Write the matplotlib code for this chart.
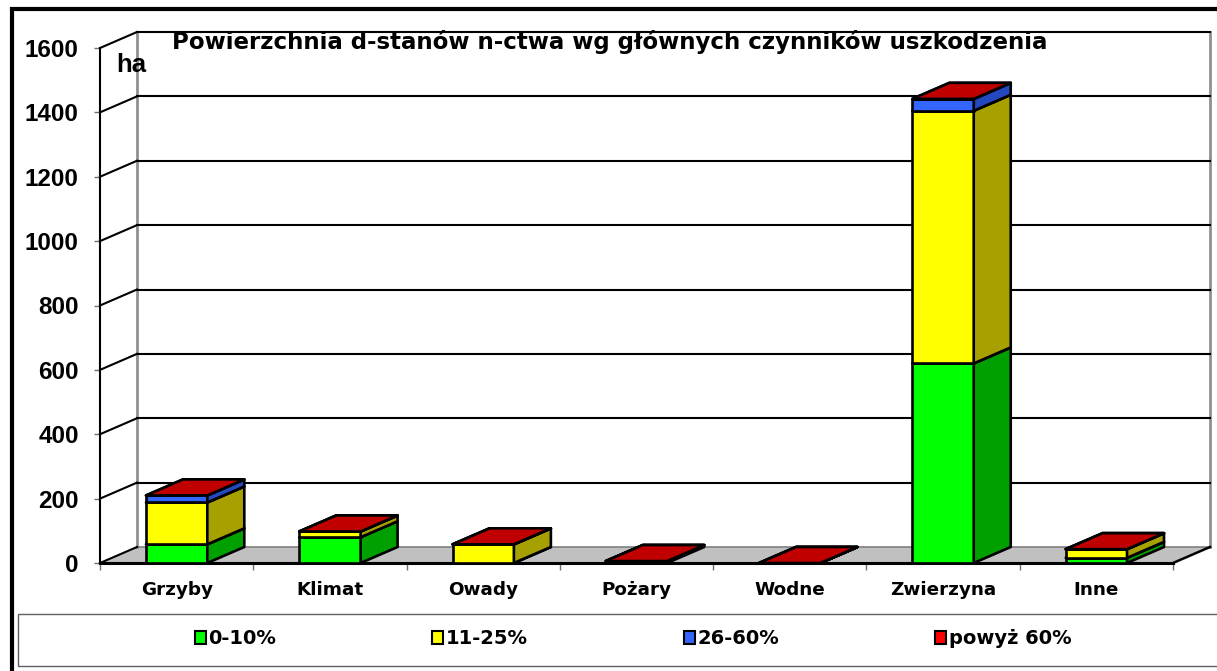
import matplotlib
matplotlib.use('Agg')
import matplotlib.pyplot as plt
from matplotlib import font_manager as fm
from matplotlib.patches import Polygon, Rectangle, Patch
import numpy as np

# ---- data ----
categories = ["Grzyby", "Klimat", "Owady", "Pożary", "Wodne", "Zwierzyna", "Inne"]
series_names = ["0-10%", "11-25%", "26-60%", "powyż 60%"]
s_0_10 = [58, 80, 0, 6, 0, 620, 16]
s_11_25 = [130, 18, 58, 0, 0, 785, 27]
s_26_60 = [22, 0, 0, 0, 0, 37, 0]
s_60 = [0, 0, 0, 0, 0, 0, 0]
y_ticks = [0, 200, 400, 600, 800, 1000, 1200, 1400, 1600]
title = "Powierzchnia d-stanów n-ctwa wg głównych czynników uszkodzenia"
unit = "ha"

# ---- styles ----
front_colors = ['#00FF00', '#FFFF00', '#3366FF', '#FF0000']
side_colors = ['#00A000', '#A6A000', '#2448C0', '#A00000']
top_colors = ['#00C000', '#C8C000', '#2A55E0', '#C00000']


def bold_font(name, size):
    for f in fm.fontManager.ttflist:
        if f.name == name and f.style == 'normal' and f.weight in (700, 'bold') \
                and 'Narrow' not in f.fname and 'Condensed' not in f.fname:
            return fm.FontProperties(fname=f.fname, size=size)
    return fm.FontProperties(family=name, weight='bold', size=size)


W, H = 1217, 671
fig = plt.figure(figsize=(W / 100, H / 100), dpi=100)
L, R, B, T = 100, 1173, 563, 48
ax = fig.add_axes([L / W, 1 - B / H, (R - L) / W, (B - T) / H])
ax.set_xlim(-0.5, len(categories) - 0.5)
ax.set_ylim(y_ticks[0], y_ticks[-1])
ax.patch.set_visible(False)

dx = 37 / ((R - L) / len(categories))
dy = 16 / ((B - T) / (y_ticks[-1] - y_ticks[0]))
x_lo, x_hi = -0.5, len(categories) - 0.5

# floor
ax.add_patch(Polygon([(x_lo, 0), (x_hi, 0), (x_hi + dx, dy), (x_lo + dx, dy)],
                     closed=True, fc='#C0C0C0', ec='none', zorder=1, clip_on=False))
ax.plot([x_lo + dx, x_hi + dx], [dy, dy], color='#808080', lw=1.2, zorder=1.2, clip_on=False)
ax.plot([x_hi, x_hi + dx], [0, dy], color='black', lw=1.8, zorder=1.5, clip_on=False)

# back wall verticals
ax.plot([x_lo + dx, x_lo + dx], [dy, y_ticks[-1] + dy], color='#909090', lw=2, zorder=1.1, clip_on=False)
ax.plot([x_hi + dx, x_hi + dx], [dy, y_ticks[-1] + dy], color='#909090', lw=2, zorder=1.1, clip_on=False)

# gridlines (back wall + side wall diagonals)
for v in y_ticks:
    if v > 0:
        ax.plot([x_lo + dx, x_hi + dx], [v + dy, v + dy], color='black', lw=1.5, zorder=1.3, clip_on=False)
    ax.plot([x_lo, x_lo + dx], [v, v + dy], color='black', lw=1.5, zorder=1.3, clip_on=False)

# bars
series = [s_0_10, s_11_25, s_26_60, s_60]
bw = 0.4
for i in range(len(categories)):
    base = 0.0
    x0, x1 = i - bw / 2, i + bw / 2
    for k, s in enumerate(series):
        h = s[i]
        b, t = base, base + h
        z = 3 + k * 0.1 + i * 0.01
        front = [(x0, b), (x1, b), (x1, t), (x0, t)]
        side = [(x1, b), (x1 + dx, b + dy), (x1 + dx, t + dy), (x1, t)]
        top = [(x0, t), (x1, t), (x1 + dx, t + dy), (x0 + dx, t + dy)]
        for poly, col in ((front, front_colors[k]), (side, side_colors[k]), (top, top_colors[k])):
            ax.add_patch(Polygon(poly, closed=True, fc=col, ec='black', lw=1.9,
                                 joinstyle='round', zorder=z, clip_on=False))
        base = t

# spines / ticks
for sp in ('top', 'right'):
    ax.spines[sp].set_visible(False)
ax.spines['left'].set_color('black')
ax.spines['left'].set_linewidth(1.5)
ax.spines['bottom'].set_color('black')
ax.spines['bottom'].set_linewidth(2.2)
ax.spines['bottom'].set_zorder(2.5)

fp_tick = bold_font('Liberation Sans', 17.5)
fp_cat = bold_font('DejaVu Sans', 13.2)
fp_title = bold_font('DejaVu Sans', 16.5)
fp_unit = bold_font('Liberation Sans', 18.5)
fp_leg = bold_font('DejaVu Sans', 14)

ax.set_yticks(y_ticks)
ax.set_yticklabels([str(v) for v in y_ticks], fontproperties=fp_tick)
ax.tick_params(axis='y', length=4.3, width=1, color='#707070', pad=11)

ax.set_xticks(range(len(categories)))
ax.set_xticklabels(categories, fontproperties=fp_cat)
ax.tick_params(axis='x', which='major', length=0, pad=13)
ax.set_xticks(np.arange(x_lo, x_hi + 0.01, 1), minor=True)
ax.tick_params(axis='x', which='minor', length=5, width=1, color='#707070')

# texts
fig.text(610 / W, 1 - 49 / H, title, ha='center', va='baseline', fontproperties=fp_title)
fig.text(116 / W, 1 - 72 / H, unit, ha='left', va='baseline', fontproperties=fp_unit)

# legend
handles = [Patch(fc=c, ec='black', lw=1.5) for c in front_colors]
fig.legend(handles, series_names, loc='center', bbox_to_anchor=(633 / W, 1 - 639 / H),
           ncol=4, frameon=False, prop=fp_leg,
           handlelength=0.57, handleheight=0.67, handletextpad=0.15, columnspacing=8.0)
fig.add_artist(Rectangle((18 / W, 1 - 666 / H), (1240 - 18) / W, 52 / H,
                         transform=fig.transFigure, fill=False, ec='#606060', lw=1))

# outer thick frame
fig.add_artist(Rectangle((12 / W, -0.2), 1.2, 1.2 - 9 / H,
                         transform=fig.transFigure, fill=False, ec='black', lw=3))

fig.savefig('out.png', dpi=100)
